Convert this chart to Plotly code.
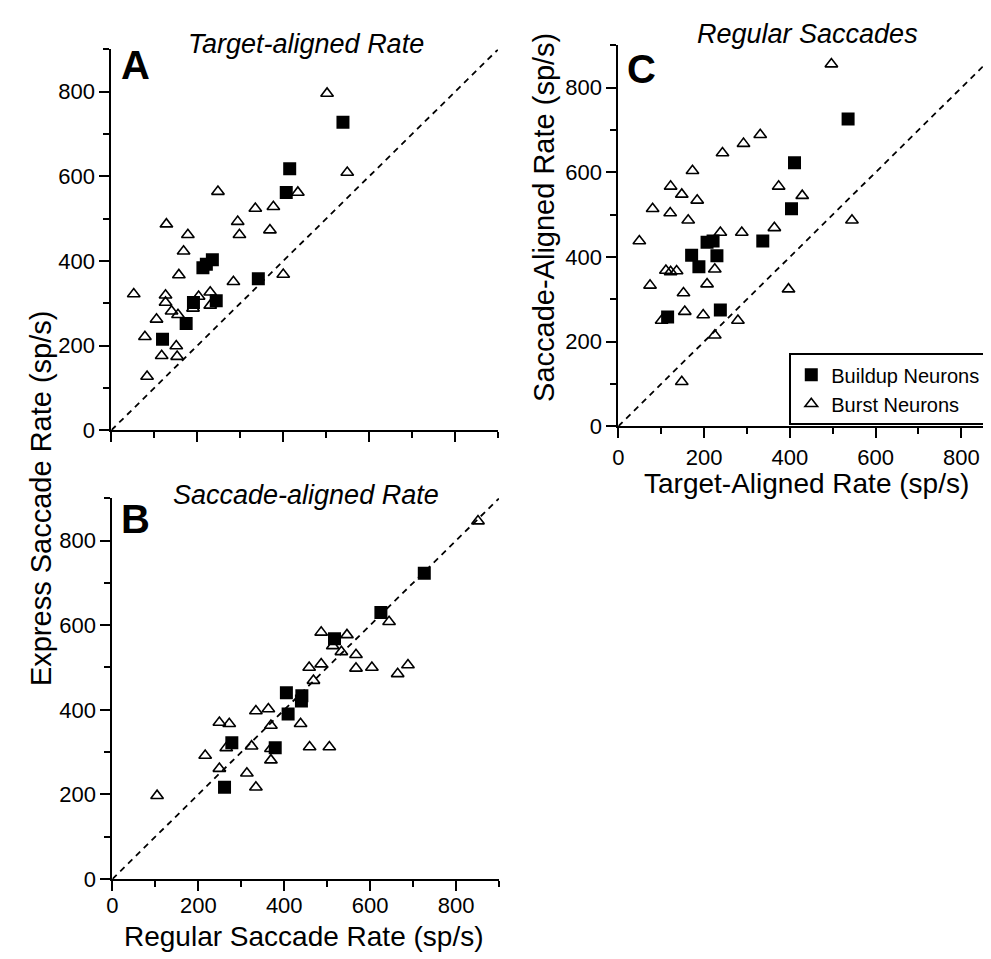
import plotly.graph_objects as go

# ---------------- data (sp/s) ----------------
A_build_x = [539, 415, 407, 235, 221, 213, 342, 191, 244, 174, 119]
A_build_y = [728, 618, 562, 403, 392, 384, 358, 302, 306, 252, 215]
A_burst_x = [502, 549, 434, 248, 335, 377, 294, 298, 369, 128, 178, 168, 157, 400, 284,
             52, 126, 126, 140, 155, 203, 230, 230, 190, 105, 78, 151, 117, 153, 83]
A_burst_y = [796, 609, 562, 564, 524, 528, 493, 462, 473, 487, 462, 423, 367, 368, 351,
             322, 319, 302, 281, 273, 316, 326, 295, 288, 262, 221, 199, 176, 174, 127]

B_build_x = [726, 625, 517, 405, 441, 440, 409, 278, 379, 261]
B_build_y = [723, 630, 568, 440, 433, 421, 390, 322, 310, 217]
B_burst_x = [851, 644, 486, 546, 513, 533, 567, 567, 604, 688, 664, 458, 486, 468, 334, 363,
             369, 438, 249, 272, 265, 324, 369, 459, 505, 216, 249, 313, 369, 334, 104]
B_burst_y = [846, 608, 583, 577, 551, 537, 530, 498, 500, 506, 485, 500, 508, 469, 397, 402,
             363, 367, 370, 367, 310, 314, 308, 312, 312, 292, 261, 250, 281, 217, 197]

C_build_x = [536, 411, 404, 337, 221, 207, 230, 171, 188, 238, 115]
C_build_y = [726, 623, 514, 438, 438, 435, 403, 404, 377, 275, 258]
C_burst_x = [497, 331, 292, 243, 173, 122, 148, 184, 80, 121, 163, 374, 429, 545, 364, 288,
             238, 49, 111, 122, 136, 225, 207, 74, 397, 152, 155, 198, 279, 101, 225, 148]
C_burst_y = [856, 689, 668, 646, 604, 567, 548, 534, 514, 504, 487, 567, 545, 487, 469, 458,
             458, 438, 368, 365, 367, 371, 336, 333, 324, 315, 271, 263, 250, 250, 215, 105]

identity = [0, 900]
tick_vals = [0, 200, 400, 600, 800]
tick_text = ["0", "200", "400", "600", "800"]

FONT = "Liberation Sans, Arial, Helvetica, sans-serif"
W, H = 991, 959

fig = go.Figure()

panels = [
    ("x", "y", A_build_x, A_build_y, A_burst_x, A_burst_y, False),
    ("x2", "y2", B_build_x, B_build_y, B_burst_x, B_burst_y, False),
    ("x3", "y3", C_build_x, C_build_y, C_burst_x, C_burst_y, True),
]

for xa, ya, bx, by, tx, ty, leg in panels:
    fig.add_trace(go.Scatter(x=identity, y=identity, mode="lines", xaxis=xa, yaxis=ya,
                             line=dict(color="black", width=1.8, dash="6px,5px"),
                             showlegend=False, hoverinfo="skip"))
    fig.add_trace(go.Scatter(x=bx, y=by, mode="markers", xaxis=xa, yaxis=ya,
                             name="Buildup Neurons", showlegend=leg,
                             marker=dict(symbol="square", size=13, color="black",
                                         line=dict(width=0))))
    fig.add_trace(go.Scatter(x=tx, y=ty, mode="markers", xaxis=xa, yaxis=ya,
                             name="Burst Neurons", showlegend=leg,
                             marker=dict(symbol="triangle-up-open", size=11, color="black",
                                         line=dict(width=1.6, color="black"))))


def px_x(p):
    return p / W


def px_y(p):
    return (H - p) / H


def axis(domain, rng, labels=True, standoff=None):
    d = dict(domain=domain, range=rng, showline=True, linecolor="black", linewidth=2,
             ticks="outside", ticklen=10, tickwidth=2, tickcolor="black",
             tickvals=tick_vals, ticktext=tick_text, showticklabels=labels,
             minor=dict(dtick=100, tick0=0, ticks="outside", ticklen=6, tickwidth=2,
                        tickcolor="black"),
             showgrid=False, zeroline=False, fixedrange=True,
             tickfont=dict(family=FONT, size=22, color="black"))
    if standoff is not None:
        d["ticklabelstandoff"] = standoff
    return d


fig.update_layout(
    width=W, height=H, autosize=False,
    margin=dict(l=0, r=0, t=0, b=0),
    paper_bgcolor="white", plot_bgcolor="white",
    font=dict(family=FONT, color="black"),
    xaxis=dict(axis([px_x(98), px_x(487)], [0, 900], labels=False), anchor="y"),
    yaxis=dict(axis([px_y(428), px_y(42)], [0, 900]), anchor="x"),
    xaxis2=dict(axis([px_x(99), px_x(488)], [0, 900], standoff=-4), anchor="y2"),
    yaxis2=dict(axis([px_y(883), px_y(497)], [0, 900]), anchor="x2"),
    xaxis3=dict(axis([px_x(608), 1.0], [0, 888]), anchor="y3"),
    yaxis3=dict(axis([px_y(424), px_y(38)], [0, 900]), anchor="x3"),
    legend=dict(x=px_x(780), y=px_y(350), xanchor="left", yanchor="top",
                bordercolor="black", borderwidth=2, bgcolor="white",
                font=dict(family=FONT, size=20, color="black"),
                tracegroupgap=0, itemwidth=30),
)

annots = [
    ("<b>A</b>", 122, 58, 40, 0),
    ("<b>B</b>", 122, 518, 40, 0),
    ("<b>C</b>", 631, 62, 40, 0),
    ("<i>Target-aligned Rate</i>", 294, 36, 27, 0),
    ("<i>Saccade-aligned Rate</i>", 294, 494, 27, 0),
    ("<i>Regular Saccades</i>", 798, 26, 27, 0),
    ("Express Saccade Rate (sp/s)", 27, 497, 29, -90),
    ("Regular Saccade Rate (sp/s)", 292, 941, 28, 0),
    ("Target-Aligned Rate (sp/s)", 797, 482, 28, 0),
    ("Saccade-Aligned Rate (sp/s)", 533, 212, 29, -90),
]
for text, x, y, size, ang in annots:
    fig.add_annotation(text=text, x=px_x(x), y=px_y(y), xref="paper", yref="paper",
                       xanchor="center", yanchor="middle", showarrow=False,
                       textangle=ang, font=dict(family=FONT, size=size, color="black"))

fig.write_html("out.html")
